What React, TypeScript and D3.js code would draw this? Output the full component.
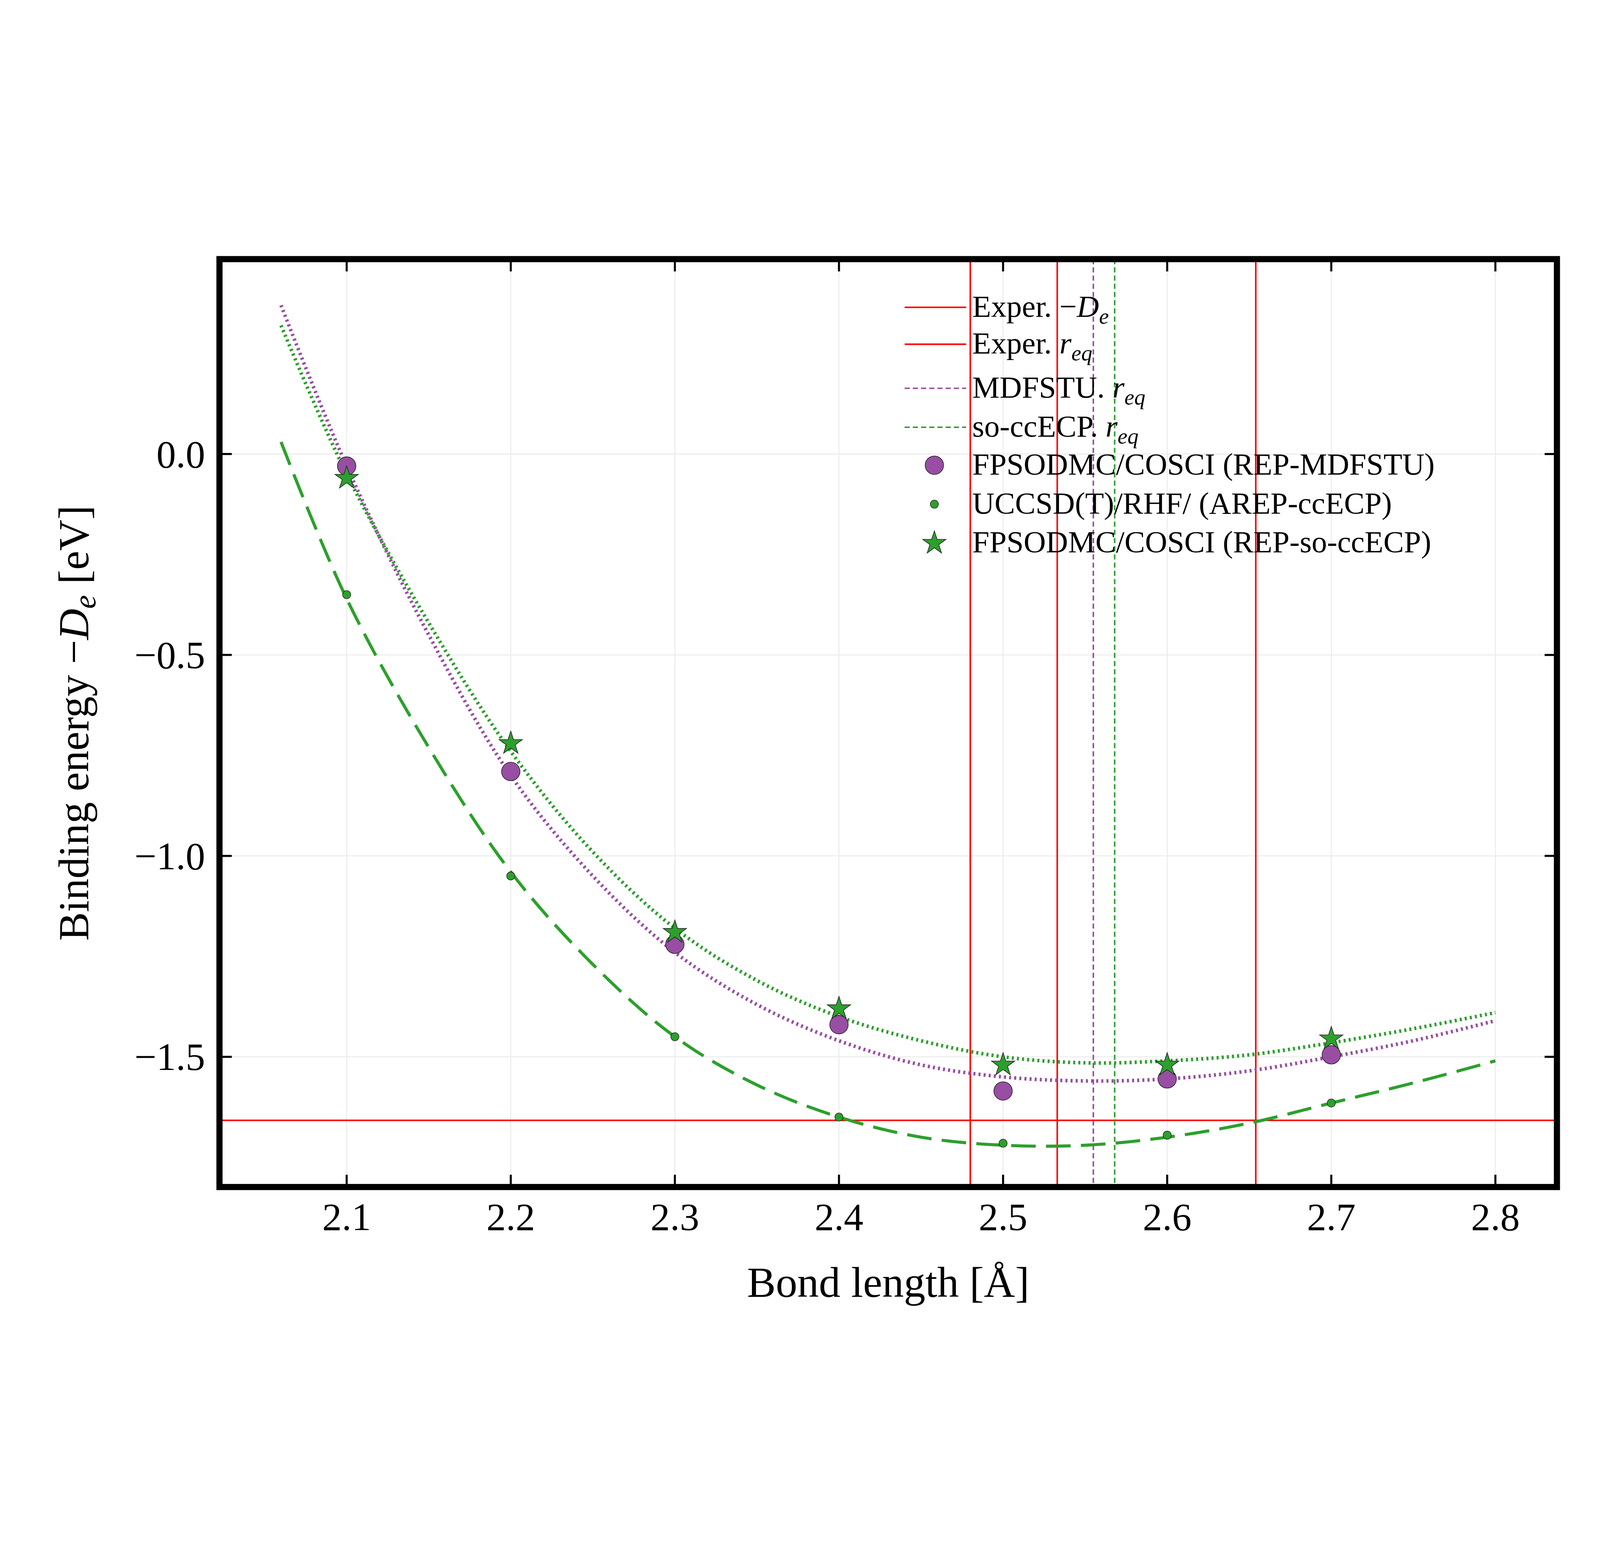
import * as d3 from "d3";

const xsMeas = [2.1, 2.2, 2.3, 2.4, 2.5, 2.6, 2.7];
const mdfstu = [-0.03, -0.79, -1.22, -1.42, -1.585, -1.555, -1.495];
const soccecp = [-0.06, -0.72, -1.19, -1.38, -1.52, -1.52, -1.455];
const uccsd = [-0.35, -1.05, -1.45, -1.65, -1.715, -1.695, -1.615];

const xsFit = [2.06, 2.1, 2.15, 2.2, 2.25, 2.3, 2.35, 2.4, 2.45, 2.5, 2.55, 2.6, 2.65, 2.7, 2.75, 2.8];
const fitMdfstu = [0.37, -0.03, -0.45, -0.8, -1.05, -1.24, -1.37, -1.46, -1.52, -1.55, -1.56, -1.555, -1.535, -1.5, -1.46, -1.41];
const fitSo = [0.32, -0.05, -0.42, -0.74, -0.99, -1.18, -1.31, -1.4, -1.46, -1.5, -1.515, -1.51, -1.495, -1.465, -1.43, -1.39];
const fitUccsd = [0.03, -0.36, -0.73, -1.04, -1.27, -1.45, -1.57, -1.65, -1.7, -1.72, -1.72, -1.7, -1.665, -1.615, -1.565, -1.51];

const experDe = -1.658;
const experReq = [2.48, 2.533, 2.654];
const mdfstuReq = 2.555;
const soReq = 2.568;

const xTicks = [2.1, 2.2, 2.3, 2.4, 2.5, 2.6, 2.7, 2.8];
const yTicks = [0, -0.5, -1.0, -1.5];

const PURPLE = "#984ea3";
const GREEN = "#2ca02c";
const FONT = "'Liberation Serif', 'DejaVu Serif', serif";

const L = 214, R = 1518, T = 48, B = 953;
const x = d3.scaleLinear().domain([2.0225, 2.8375]).range([L, R]);
const y = d3.scaleLinear().domain([-1.824, 0.485]).range([B, T]);

const line = (xs: number[], ys: number[]) =>
  d3.line<number>().x((_, i) => x(xs[i])).y((d) => y(d)).curve(d3.curveCatmullRom)(ys) || "";

const fmt = (v: number) => (v < 0 ? "\u2212" : "") + Math.abs(v).toFixed(1);

const star = d3.symbol().type(d3.symbolStar).size(160)() || "";

function Sub({ base, sub }: { base: string; sub: string }) {
  return (
    <>
      <tspan fontStyle="italic">{base}</tspan>
      <tspan fontStyle="italic" fontSize="0.72em" dy="7">{sub}</tspan>
      <tspan dy="-7"> </tspan>
    </>
  );
}

export default function App() {
  const legendRows = [104, 140, 183, 221, 258, 296, 334];
  return (
    <svg viewBox="0 0 1560 1114" preserveAspectRatio="xMidYMid meet"
      style={{ position: "fixed", left: 0, top: 0, width: "100vw", height: "100vh", background: "white" }} fontFamily={FONT}>
      <defs>
        <clipPath id="clip"><rect x={L} y={T} width={R - L} height={B - T} /></clipPath>
      </defs>
      {xTicks.map((t) => (
        <line key={"gx" + t} x1={x(t)} x2={x(t)} y1={T} y2={B} stroke="#ececec" strokeWidth={1} />
      ))}
      {yTicks.map((t) => (
        <line key={"gy" + t} x1={L} x2={R} y1={y(t)} y2={y(t)} stroke="#ececec" strokeWidth={1} />
      ))}
      <g clipPath="url(#clip)">
        <line x1={L} x2={R} y1={y(experDe)} y2={y(experDe)} stroke="red" strokeWidth={1.5} />
        {experReq.map((v) => (
          <line key={v} x1={x(v)} x2={x(v)} y1={T} y2={B} stroke="red" strokeWidth={1.5} />
        ))}
        <line x1={x(mdfstuReq)} x2={x(mdfstuReq)} y1={T} y2={B} stroke={PURPLE} strokeWidth={1.5} strokeDasharray="5,3" />
        <line x1={x(soReq)} x2={x(soReq)} y1={T} y2={B} stroke={GREEN} strokeWidth={1.5} strokeDasharray="5,3" />
        <path d={line(xsFit, fitMdfstu)} fill="none" stroke={PURPLE} strokeWidth={3.5} strokeDasharray="2,3" />
        <path d={line(xsFit, fitSo)} fill="none" stroke={GREEN} strokeWidth={3.5} strokeDasharray="2,3" />
        <path d={line(xsFit, fitUccsd)} fill="none" stroke={GREEN} strokeWidth={3} strokeDasharray="24,10" />
        {xsMeas.map((v, i) => (
          <circle key={"m" + v} cx={x(v)} cy={y(mdfstu[i])} r={9} fill={PURPLE} stroke="#222" strokeWidth={0.6} />
        ))}
        {xsMeas.map((v, i) => (
          <circle key={"u" + v} cx={x(v)} cy={y(uccsd[i])} r={4} fill={GREEN} stroke="#222" strokeWidth={0.5} />
        ))}
        {xsMeas.map((v, i) => (
          <path key={"s" + v} d={star} transform={`translate(${x(v)},${y(soccecp[i])})`} fill={GREEN} stroke="#222" strokeWidth={0.6} />
        ))}
      </g>
      {xTicks.map((t) => (
        <g key={"tx" + t}>
          <line x1={x(t)} x2={x(t)} y1={B} y2={B - 12} stroke="black" strokeWidth={2} />
          <line x1={x(t)} x2={x(t)} y1={T} y2={T + 12} stroke="black" strokeWidth={2} />
          <text x={x(t)} y={B + 42} fontSize={38} textAnchor="middle">{t.toFixed(1)}</text>
        </g>
      ))}
      {yTicks.map((t) => (
        <g key={"ty" + t}>
          <line x1={L} x2={L + 12} y1={y(t)} y2={y(t)} stroke="black" strokeWidth={2} />
          <line x1={R} x2={R - 12} y1={y(t)} y2={y(t)} stroke="black" strokeWidth={2} />
          <text x={L - 14} y={y(t) + 13} fontSize={38} textAnchor="end">{fmt(t)}</text>
        </g>
      ))}
      <rect x={L} y={T} width={R - L} height={B - T} fill="none" stroke="black" strokeWidth={6} />
      <text x={(L + R) / 2} y={1060} fontSize={42} textAnchor="middle">Bond length [Å]</text>
      <text transform={`translate(86,${(T + B) / 2}) rotate(-90)`} fontSize={42} textAnchor="middle">
        Binding energy <tspan>{"\u2212"}</tspan><Sub base="D" sub="e" />[eV]
      </text>
      <g fontSize={30}>
        <line x1={882} x2={942} y1={legendRows[0] - 9} y2={legendRows[0] - 9} stroke="red" strokeWidth={1.5} />
        <text x={948} y={legendRows[0]}>Exper. <tspan>{"\u2212"}</tspan><Sub base="D" sub="e" /></text>
        <line x1={882} x2={942} y1={legendRows[1] - 9} y2={legendRows[1] - 9} stroke="red" strokeWidth={1.5} />
        <text x={948} y={legendRows[1]}>Exper. <Sub base="r" sub="eq" /></text>
        <line x1={882} x2={942} y1={legendRows[2] - 9} y2={legendRows[2] - 9} stroke={PURPLE} strokeWidth={1.5} strokeDasharray="5,3" />
        <text x={948} y={legendRows[2]}>MDFSTU. <Sub base="r" sub="eq" /></text>
        <line x1={882} x2={942} y1={legendRows[3] - 9} y2={legendRows[3] - 9} stroke={GREEN} strokeWidth={1.5} strokeDasharray="5,3" />
        <text x={948} y={legendRows[3]}>so-ccECP. <Sub base="r" sub="eq" /></text>
        <circle cx={911} cy={legendRows[4] - 9} r={9} fill={PURPLE} stroke="#222" strokeWidth={0.6} />
        <text x={948} y={legendRows[4]}>FPSODMC/COSCI (REP-MDFSTU)</text>
        <circle cx={911} cy={legendRows[5] - 9} r={4} fill={GREEN} stroke="#222" strokeWidth={0.5} />
        <text x={948} y={legendRows[5]}>UCCSD(T)/RHF/ (AREP-ccECP)</text>
        <path d={star} transform={`translate(911,${legendRows[6] - 9})`} fill={GREEN} stroke="#222" strokeWidth={0.6} />
        <text x={948} y={legendRows[6]}>FPSODMC/COSCI (REP-so-ccECP)</text>
      </g>
    </svg>
  );
}
